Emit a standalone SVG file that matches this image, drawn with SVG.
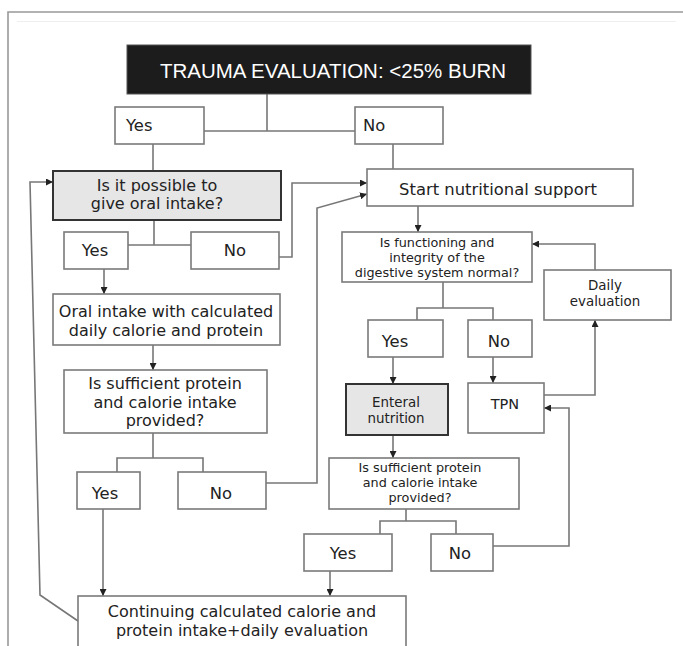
<svg xmlns="http://www.w3.org/2000/svg" width="683" height="646" viewBox="0 0 683 646">
<defs>
<style>
.box{fill:#fff;stroke:#7a7a7a;stroke-width:1.6}
.gbox{fill:#e6e6e6;stroke:#333;stroke-width:2}
.t{font-family:"DejaVu Sans",sans-serif;font-size:16px;fill:#222;text-anchor:middle}
.s{font-family:"DejaVu Sans",sans-serif;font-size:13.4px;fill:#222;text-anchor:middle}
.x{font-family:"DejaVu Sans",sans-serif;font-size:12.8px;fill:#222;text-anchor:middle}
.c{fill:none;stroke:#777;stroke-width:1.6}
.a{fill:none;stroke:#777;stroke-width:1.6;marker-end:url(#ah)}
</style>
<marker id="ah" markerUnits="userSpaceOnUse" markerWidth="7" markerHeight="7" refX="7" refY="3.5" orient="auto">
<path d="M0,0 L7,3.5 L0,7 z" fill="#222"/>
</marker>
</defs>
<rect width="683" height="646" fill="#fff"/>
<g id="frame">
<path d="M8,646 V12 H683" fill="none" stroke="#999" stroke-width="1.6"/>
<line x1="17" y1="21.5" x2="676" y2="21.5" stroke="#eee" stroke-width="1"/>
</g>
<g id="connectors">
<path class="c" d="M267,94 V131 M204,131 H355"/>
<path class="c" d="M153,144 V171"/>
<path class="c" d="M393,144 V169"/>
<path class="c" d="M154,220 V245 M128,245 H191"/>
<path class="a" d="M279,257 H292 V183 H367"/>
<path class="a" d="M104,269 V294"/>
<path class="a" d="M153,345 V370"/>
<path class="c" d="M153,433 V458 M117,472 V458 H203 V472"/>
<path class="a" d="M266,483 H317 V208 L367,194"/>
<path class="a" d="M103,509 V596"/>
<path class="a" d="M78,621 L40,595 L30,182 H53"/>
<path class="a" d="M418,206 V232"/>
<path class="c" d="M443,282 V308 M417,320 V308 H493 V320"/>
<path class="a" d="M393,357 V384"/>
<path class="a" d="M493,357 V383"/>
<path class="a" d="M544,395 H595 V320"/>
<path class="a" d="M595,270 V244 H532"/>
<path class="a" d="M393,435 V458"/>
<path class="c" d="M406,509 V521 M380,534 V521 H456 V534"/>
<path class="a" d="M493,546 H569 V408 H544"/>
<path class="a" d="M330,571 V596"/>
</g>
<g id="title">
<rect x="127" y="45" width="404" height="49" fill="#1c1c1c" stroke="#555" stroke-width="1"/>
<text x="333" y="78" font-family="'Liberation Sans',sans-serif" font-size="20.5" fill="#fff" text-anchor="middle">TRAUMA EVALUATION: &lt;25% BURN</text>
</g>
<g id="yes1"><rect class="box" x="115" y="107" width="89" height="37"/><text class="t" x="126" y="131" style="text-anchor:start;font-size:16.4px">Yes</text></g>
<g id="no1"><rect class="box" x="355" y="107" width="88" height="37"/><text class="t" x="363" y="131" style="text-anchor:start;font-size:16.4px">No</text></g>
<g id="oral_q"><rect class="gbox" x="53" y="171" width="228" height="49"/><text class="t" x="157" y="190.5">Is it possible to</text><text class="t" x="157" y="209">give oral intake?</text></g>
<g id="start"><rect class="box" x="367" y="169" width="266" height="37"/><text class="t" x="498" y="195" style="font-size:16.4px">Start nutritional support</text></g>
<g id="yes2"><rect class="box" x="64" y="232" width="64" height="37"/><text class="t" x="95" y="256" style="font-size:16.4px">Yes</text></g>
<g id="no2"><rect class="box" x="191" y="232" width="88" height="37"/><text class="t" x="235" y="256" style="font-size:16.4px">No</text></g>
<g id="oral"><rect class="box" x="53" y="294" width="227" height="51"/><text class="t" x="166" y="317">Oral intake with calculated</text><text class="t" x="166" y="336">daily calorie and protein</text></g>
<g id="digest_q"><rect class="box" x="342" y="232" width="190" height="50"/><text class="x" x="437" y="247">Is functioning and</text><text class="x" x="437" y="262">integrity of the</text><text class="x" x="437" y="277">digestive system normal?</text></g>
<g id="daily"><rect class="box" x="544" y="270" width="127" height="50"/><text class="s" x="605" y="290">Daily</text><text class="s" x="605" y="306">evaluation</text></g>
<g id="yes3"><rect class="box" x="368" y="320" width="75" height="37"/><text class="t" x="395" y="347" style="font-size:16.4px">Yes</text></g>
<g id="no3"><rect class="box" x="468" y="320" width="64" height="37"/><text class="t" x="499" y="347" style="font-size:16.4px">No</text></g>
<g id="enteral"><rect class="gbox" x="346" y="384" width="102" height="51"/><text class="s" x="396" y="407">Enteral</text><text class="s" x="396" y="423">nutrition</text></g>
<g id="tpn"><rect class="box" x="468" y="383" width="76" height="50"/><text class="s" x="505" y="409" style="font-size:14.5px">TPN</text></g>
<g id="suff_l"><rect class="box" x="64" y="370" width="203" height="63"/><text class="t" x="165" y="389">Is sufficient protein</text><text class="t" x="165" y="407.5">and calorie intake</text><text class="t" x="165" y="426">provided?</text></g>
<g id="yes_l"><rect class="box" x="77" y="472" width="63" height="37"/><text class="t" x="105" y="499" style="font-size:16.4px">Yes</text></g>
<g id="no_l"><rect class="box" x="178" y="472" width="88" height="37"/><text class="t" x="221" y="499" style="font-size:16.4px">No</text></g>
<g id="suff_r"><rect class="box" x="329" y="458" width="190" height="51"/><text class="x" x="420" y="472">Is sufficient protein</text><text class="x" x="420" y="487">and calorie intake</text><text class="x" x="420" y="502">provided?</text></g>
<g id="yes_r"><rect class="box" x="304" y="534" width="88" height="37"/><text class="t" x="343" y="559" style="font-size:16.4px">Yes</text></g>
<g id="no_r"><rect class="box" x="431" y="534" width="62" height="37"/><text class="t" x="460" y="559" style="font-size:16.4px">No</text></g>
<g id="bottom"><rect class="box" x="78" y="596" width="328" height="60"/><text class="t" x="242" y="617">Continuing calculated calorie and</text><text class="t" x="242" y="636">protein intake+daily evaluation</text></g>
</svg>
